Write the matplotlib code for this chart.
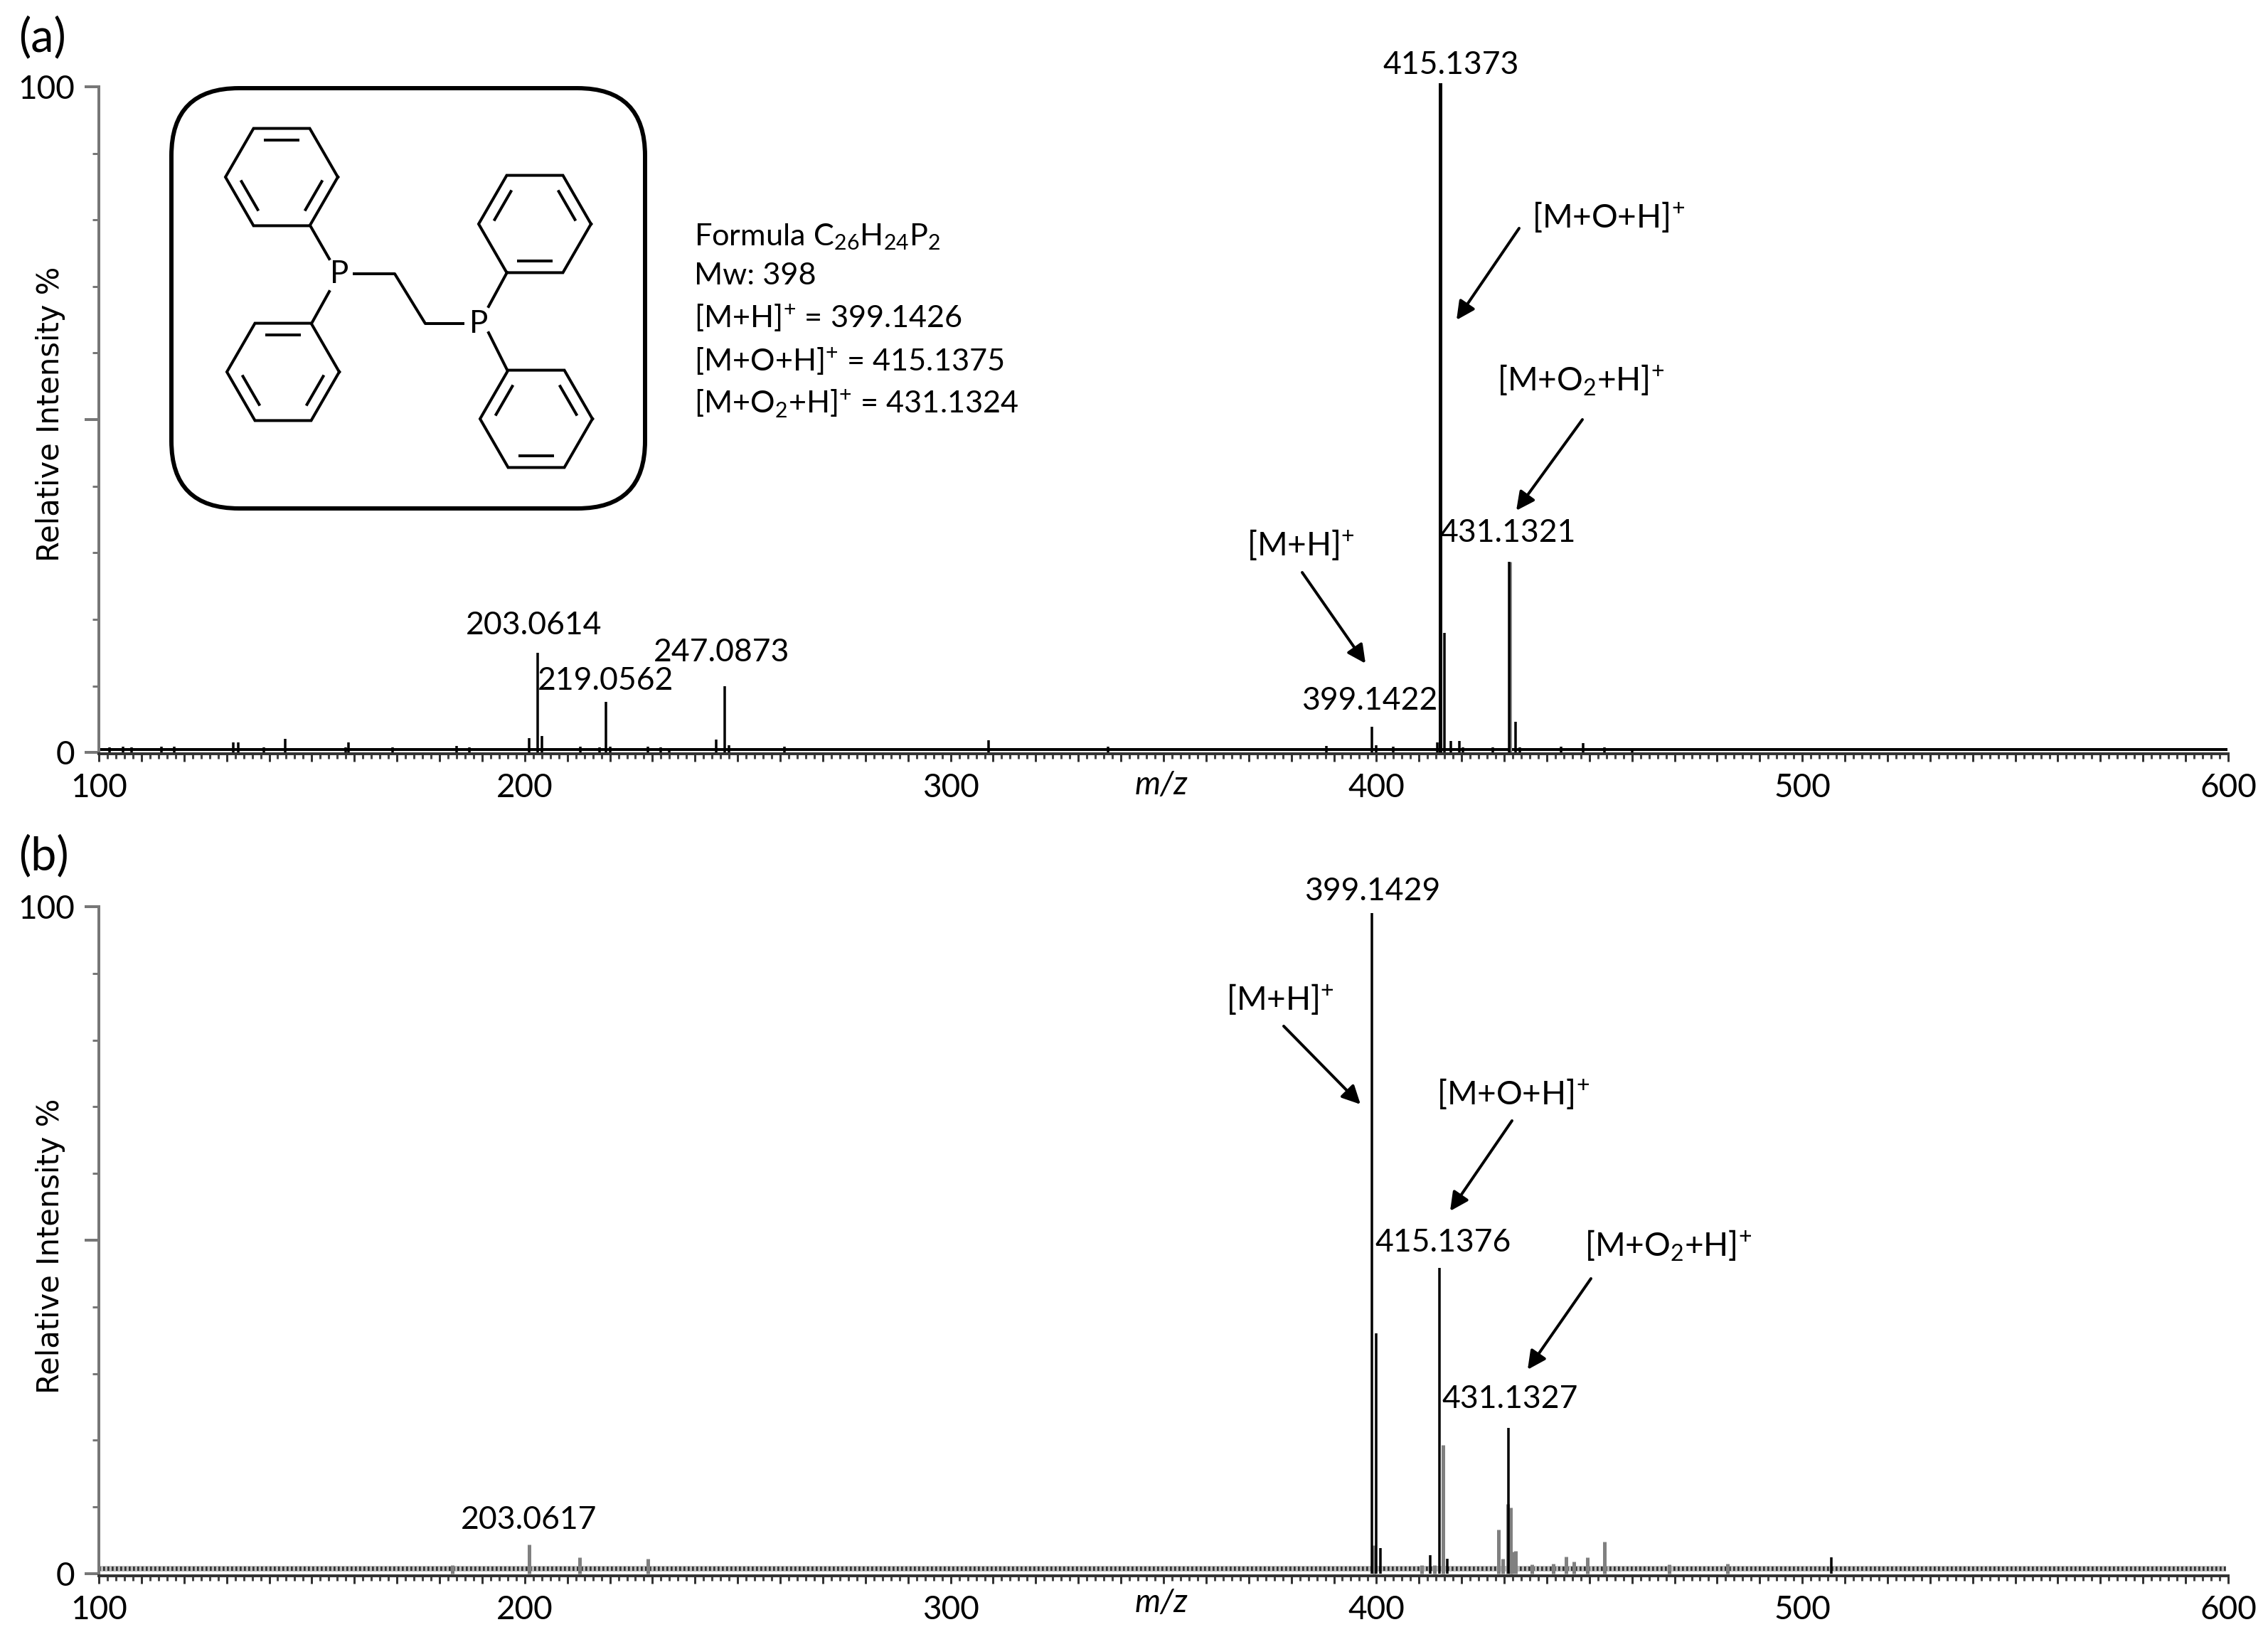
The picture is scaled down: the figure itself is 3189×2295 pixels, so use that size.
"""Mass spectra of dppe oxidation products"""
import numpy as np
import matplotlib
matplotlib.use('Agg')
import matplotlib.pyplot as plt
from matplotlib.patches import FancyBboxPatch

W, H = 3189, 2295

# panel (a), m/z and relative intensity
a_mz = [102.5, 105.6, 107.7, 114.7, 117.7, 131.6, 132.8, 138.7, 143.7, 157.9, 158.7, 169, 184, 187,
        201, 203, 204, 213, 217.5, 219, 220, 229, 232, 234, 245, 247, 248, 261, 309, 337,
        388.2, 399, 400, 404, 414.3, 415, 416, 417.4, 419.4, 420.3, 427.4, 431.2, 432.6, 433.7,
        443.4, 448.6, 453.5, 460]
a_int = [0.8, 0.9, 0.8, 0.9, 0.9, 1.5, 1.5, 0.8, 2.0, 0.8, 1.5, 0.8, 1.0, 0.8,
         2.1, 15.0, 2.5, 0.9, 0.8, 7.6, 0.9, 0.9, 0.8, 0.7, 1.9, 10.0, 1.1, 0.9, 1.8, 0.9,
         1.0, 3.9, 1.1, 0.9, 1.5, 100.5, 18.0, 1.7, 1.7, 0.8, 0.8, 28.6, 4.6, 0.8,
         0.9, 1.4, 0.8, 0.7]

# panel (b), strong thin peaks
b_mz = [399, 400, 401, 412.6, 414.8, 416.7, 431, 506.8]
b_int = [99.0, 36.0, 3.8, 2.8, 45.8, 2.2, 21.9, 2.5]

# panel (b), weaker peaks printed in grey
b_grey_mz = [183, 201, 212.9, 228.9, 399.4, 410.6, 413.6, 415.7, 428.7, 429.7, 430.9, 431.5, 431.9, 432.7,
             436.5, 441.5, 444.5, 446.4, 449.5, 453.6, 468.7, 482.4]
b_grey_int = [1.3, 4.4, 2.5, 2.2, 4.3, 1.3, 1.3, 19.3, 6.6, 2.2, 10.4, 9.9, 3.3, 3.4,
              1.4, 1.5, 2.6, 1.8, 2.4, 4.8, 1.4, 1.5]

x_labels = ['100', '200', '300', '400', '500', '600']
y_labels = ['0', '100']

formula_lines = ['Formula C$_{26}$H$_{24}$P$_{2}$', 'Mw: 398', '[M+H]$^{+}$ = 399.1426',
                 '[M+O+H]$^{+}$ = 415.1375', '[M+O$_{2}$+H]$^{+}$ = 431.1324']
formula_y = [333, 388, 447, 508, 568]

# text, centre x, centre y (pixels)
peak_texts = [('415.1373', 2040, 91), ('431.1321', 2120, 750), ('399.1422', 1926, 986),
              ('203.0614', 751, 879), ('219.0562', 852, 958), ('247.0873', 1015, 917),
              ('399.1429', 1930, 1253), ('415.1376', 2029, 1747), ('431.1327', 2123, 1967),
              ('203.0617', 744, 2138)]
ion_texts = [('[M+O+H]$^{+}$', 2262, 305), ('[M+O$_{2}$+H]$^{+}$', 2223, 535), ('[M+H]$^{+}$', 1829, 766),
             ('[M+H]$^{+}$', 1800, 1405), ('[M+O+H]$^{+}$', 2128, 1538), ('[M+O$_{2}$+H]$^{+}$', 2346, 1752)]
arrows = [((2136, 321), (2048, 450)), ((2225, 590), (2132, 718)), ((1831, 805), (1920, 933)),
          ((1805, 1443), (1913, 1553)), ((2126, 1576), (2039, 1703)), ((2237, 1798), (2148, 1926))]

# molecule: ring centres with the ring bonds that carry a double line
rings = [((396, 249), (0, 2, 4)), ((752, 315), (1, 3, 5)), ((398, 523), (0, 2, 4)), ((754, 589), (1, 3, 5))]
bonds = [((436, 317), (463, 364)), ((463, 410), (438, 455)), ((713, 383), (687, 431)), ((687, 468), (713, 520))]
chain = [(498, 385), (555, 385), (598, 455), (651, 455)]
phosphorus = [(477, 386), (673, 455)]

plt.rcParams['font.family'] = ['Lato', 'DejaVu Sans']
plt.rcParams['mathtext.default'] = 'regular'


def px(v):
    return v * 72 / 300


def make_axes(fig, top, bottom, y_min):
    left, right = 139, 3133
    ax = fig.add_axes([left / W, 1 - bottom / H, (right - left) / W, (bottom - top) / H])
    ax.set_xlim(100, 600)
    ax.set_ylim(y_min, 100)
    for side in ['top', 'right']:
        ax.spines[side].set_visible(False)
    ax.spines['left'].set_color('#777777')
    ax.spines['left'].set_linewidth(px(4))
    ax.spines['bottom'].set_color('#333333')
    ax.spines['bottom'].set_linewidth(px(4))
    ax.set_xticks(np.arange(100, 601, 10))
    ax.set_xticks(np.arange(100, 601, 2), minor=True)
    ax.set_xticklabels([x_labels[int((t - 100) / 100)] if t % 100 == 0 else '' for t in np.arange(100, 601, 10)],
                       fontsize=11)
    ax.set_yticks([0, 50, 100])
    ax.set_yticklabels([y_labels[0], '', y_labels[1]], fontsize=11)
    ax.set_yticks(np.arange(0, 101, 10), minor=True)
    ax.tick_params(axis='x', which='major', length=px(11), width=px(3), color='#333333', pad=px(16))
    ax.tick_params(axis='x', which='minor', length=px(7), width=px(3), color='#444444')
    ax.tick_params(axis='y', which='major', length=px(20), width=px(4), color='#777777', pad=px(14))
    ax.tick_params(axis='y', which='minor', length=px(9), width=px(3), color='#777777')
    ax.patch.set_alpha(0)
    return ax


def draw_molecule(ov):
    box = FancyBboxPatch((306, 189), 536, 461, boxstyle='round,pad=65,rounding_size=95',
                         fc='none', ec='black', lw=px(6), mutation_aspect=1)
    ov.add_patch(box)
    r = 79
    for (cx, cy), doubles in rings:
        ang = np.deg2rad(np.arange(0, 361, 60))
        xs = cx + r * np.cos(ang)
        ys = cy + r * np.sin(ang)
        ov.plot(xs, ys, color='black', lw=px(4), solid_joinstyle='miter')
        # edge i runs from vertex 4+i going round the ring, inner line pulled to the centre
        for i in doubles:
            j = (4 + i) % 6
            k = (j + 1) % 6
            x0, y0 = xs[j], ys[j]
            x1, y1 = xs[k], ys[k]
            f = 0.76
            x0, x1 = cx + f * (x0 - cx), cx + f * (x1 - cx)
            y0, y1 = cy + f * (y0 - cy), cy + f * (y1 - cy)
            sx, sy = (x1 - x0) * 0.12, (y1 - y0) * 0.12
            ov.plot([x0 + sx, x1 - sx], [y0 + sy, y1 - sy], color='black', lw=px(4))
    for p0, p1 in bonds:
        ov.plot([p0[0], p1[0]], [p0[1], p1[1]], color='black', lw=px(4))
    ov.plot([p[0] for p in chain], [p[1] for p in chain], color='black', lw=px(4))
    for x, y in phosphorus:
        ov.text(x, y, 'P', fontsize=10.5, ha='center', va='center')


def main():
    fig = plt.figure(figsize=(W / 300, H / 300), dpi=300)

    ax1 = make_axes(fig, 122, 1060, -0.2)
    ax1.hlines(0.43, 100, 599.8, color='black', lw=px(4))
    ax1.vlines(a_mz, 0, a_int, color='black', lw=px(3.5))
    ax1.vlines([415, 415.1], 0, 100.5, color='black', lw=px(4), clip_on=False)
    ax1.vlines(431.3, 0, 28.6, color='#888888', lw=px(5))
    ax1.vlines(431.1, 0, 28.6, color='black', lw=px(3))

    ax2 = make_axes(fig, 1275, 2216, -0.32)
    ax2.hlines(0.75, 100, 599.5, color='#bbbbbb', lw=px(8))
    ax2.hlines(0.75, 100, 599.5, color='#333333', lw=px(6), linestyles=(0, (0.45, 0.55)))
    ax2.vlines(b_grey_mz, 0, b_grey_int, color='#808080', lw=px(5))
    ax2.vlines(b_mz, 0, b_int, color='black', lw=px(3.5))

    # pixel overlay for labels, arrows and the structure
    ov = fig.add_axes([0, 0, 1, 1], zorder=5)
    ov.set_xlim(0, W)
    ov.set_ylim(H, 0)
    ov.axis('off')

    ov.text(26, 53, '(a)', fontsize=15.5, va='center')
    ov.text(26, 1204, '(b)', fontsize=15.5, va='center')
    for y in [582, 1752]:
        ov.text(71, y, 'Relative Intensity %', rotation=90, fontsize=10, ha='center', va='center',
                family=['DejaVu Sans'])
    for y in [1104, 2254]:
        ov.text(1633, y, 'm/z', fontsize=11, style='italic', ha='center', va='center')

    for s, x, y in peak_texts:
        ov.text(x, y, s, fontsize=10.7, ha='center', va='center')
    for (s, x, y) in ion_texts:
        ov.text(x, y, s, fontsize=11, ha='center', va='center')
    for s, y in zip(formula_lines, formula_y):
        ov.text(976, y, s, fontsize=10.4, ha='left', va='center')
    for tail, head in arrows:
        ov.annotate('', xy=head, xytext=tail,
                    arrowprops=dict(arrowstyle='-|>', color='black', lw=px(4), mutation_scale=13,
                                    shrinkA=0, shrinkB=0))

    draw_molecule(ov)
    fig.savefig('out.png', dpi=300)


if __name__ == '__main__':
    main()
